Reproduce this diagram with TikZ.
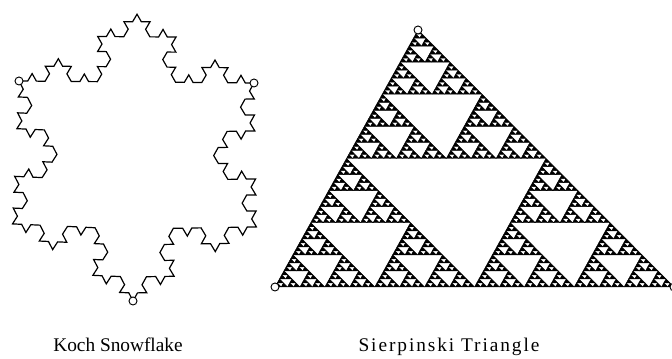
\documentclass[tikz,border=0pt]{standalone}
\usepackage{fontspec}
\setmainfont{Liberation Serif}
\usetikzlibrary{decorations.fractals}

\tikzset{
  vertex/.style={circle, draw, fill=white, line width=0.7pt, inner sep=0pt, minimum size=6pt},
  caption/.style={anchor=base, font=\fontsize{14.5}{16}\selectfont},
}

% filled Sierpinski pieces on the unit triangle (0,0)-(1,0)-(0,1)
\newcommand\sierpinski[1]{%
  \ifnum#1>0
    \begin{scope}[scale=0.5]\expandafter\sierpinski\expandafter{\the\numexpr#1-1\relax}\end{scope}%
    \begin{scope}[shift={(0.5,0)},scale=0.5]\expandafter\sierpinski\expandafter{\the\numexpr#1-1\relax}\end{scope}%
    \begin{scope}[shift={(0,0.5)},scale=0.5]\expandafter\sierpinski\expandafter{\the\numexpr#1-1\relax}\end{scope}%
  \else
    \filldraw[line width=0.35pt, line join=round] (0,0) -- (1,0) -- (0,1) -- cycle;
  \fi}

\begin{document}
\begin{tikzpicture}[x=0.75pt, y=0.75pt]
  \useasboundingbox (0,0) rectangle (672,359);

  % Koch snowflake
  \coordinate (koch-a) at (19,278);
  \coordinate (koch-b) at (254,276);
  \coordinate (koch-c) at (133,58);
  \draw[line width=0.9pt, decoration=Koch snowflake]
    decorate{decorate{decorate{(koch-a) -- (koch-b) -- (koch-c) -- (koch-a)}}};
  \node[vertex] (koch-a-dot) at (koch-a) {};
  \node[vertex] (koch-b-dot) at (koch-b) {};
  \node[vertex] (koch-c-dot) at (koch-c) {};

  % Sierpinski triangle
  \coordinate (sier-a) at (275,72);
  \coordinate (sier-b) at (674,72);
  \coordinate (sier-c) at (418,329);
  \begin{scope}[cm={399,0,143,257,(275,72)}]
    \sierpinski{6}
  \end{scope}
  \node[vertex] (sier-a-dot) at (sier-a) {};
  \node[vertex] (sier-b-dot) at (sier-b) {};
  \node[vertex] (sier-c-dot) at (sier-c) {};

  \node[caption] (koch-label) at (118,7) {Koch Snowflake};
  \node[caption] (sier-label) at (449,7) {\addfontfeature{LetterSpace=10}Sierpinski Triangle};
\end{tikzpicture}
\end{document}
